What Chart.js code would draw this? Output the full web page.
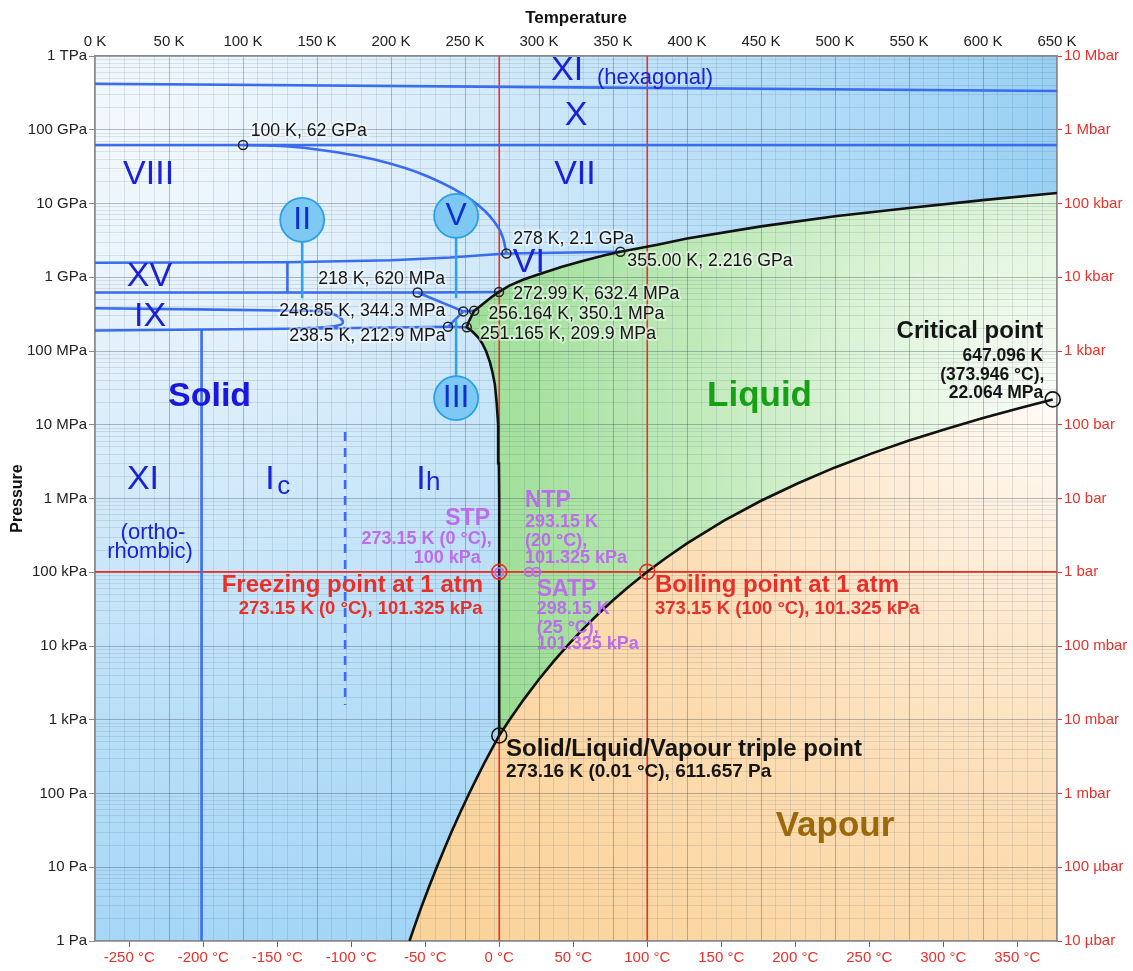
<!DOCTYPE html>
<html lang="en">
<head>
<meta charset="utf-8">
<title>Phase diagram of water</title>
<script src="https://cdn.jsdelivr.net/npm/chart.js@4.4.1/dist/chart.umd.min.js"></script>
<style>
  html, body { margin: 0; padding: 0; background: #ffffff; }
  canvas { display: block; }
</style>
</head>
<body>
<canvas id="phase" width="1133" height="971"></canvas>
<script>
// ---- Axis tick labels ----
const kelvinTicks = [0, 50, 100, 150, 200, 250, 300, 350, 400, 450, 500, 550, 600, 650];
const celsiusTicks = [-250, -200, -150, -100, -50, 0, 50, 100, 150, 200, 250, 300, 350];
const pascalLabels = ['1 Pa', '10 Pa', '100 Pa', '1 kPa', '10 kPa', '100 kPa', '1 MPa', '10 MPa', '100 MPa', '1 GPa', '10 GPa', '100 GPa', '1 TPa'];
const barLabels = ['10 µbar', '100 µbar', '1 mbar', '10 mbar', '100 mbar', '1 bar', '10 bar', '100 bar', '1 kbar', '10 kbar', '100 kbar', '1 Mbar', '10 Mbar'];

// ---- Phase boundaries, [temperature K, pressure Pa] ----
const sublimation = [[212.5, 1], [216, 1.6], [220, 2.7], [225, 5.0], [230.9, 10], [236, 17.7], [241, 30.5], [247, 56.6], [252.8, 100], [258, 163], [263, 257], [268, 397], [273.16, 611.657]];
const vaporization = [[273.16, 611.657], [280, 991.8], [290, 1919.9], [300, 3536.8], [310, 6231], [320, 10546], [330, 17213], [340, 27188], [350, 41682], [360, 62194], [373.15, 101325], [385, 152700], [400, 245770], [425, 500000], [450, 932200], [475, 1.61e6], [500, 2.639e6], [525, 4.09e6], [550, 6.117e6], [575, 8.77e6], [600, 12.345e6], [625, 16.89e6], [647.096, 22.064e6]];
const meltIh = [[273.16, 611.657], [273.15, 101325], [273.08, 1e6], [272.9, 3e6], [272.4, 1e7], [271.4, 2e7], [270.2, 3.5e7], [268.7, 5e7], [266.9, 7e7], [264.2, 1e8], [261.8, 1.25e8], [259.3, 1.5e8], [256.7, 1.7e8], [254.2, 1.9e8], [251.165, 2.099e8]];
const meltIII = [[251.165, 2.099e8], [252.5, 2.5e8], [254.5, 3.0e8], [256.164, 3.501e8]];
const meltV = [[256.164, 3.501e8], [260, 4.0e8], [264, 4.65e8], [268, 5.4e8], [272.99, 6.324e8]];
const meltVI = [[272.99, 6.324e8], [280, 7.7e8], [290, 9.4e8], [300, 1.1e9], [315, 1.38e9], [330, 1.68e9], [345, 2.0e9], [355, 2.216e9]];
const meltVII = [[355, 2.216e9], [380, 2.75e9], [400, 3.35e9], [450, 4.9e9], [500, 6.7e9], [550, 8.7e9], [600, 11.1e9], [650, 13.9e9]];

// ---- Solid–solid boundaries ----
const xiHexBoundary = [[0, 4.2e11], [325, 3.75e11], [650, 3.35e11]];
const iceXBoundary = [[0, 62e9], [650, 62e9]];
const viiiViiBoundary = [[100, 62e9], [121.6, 6.06e10], [146, 5.53e10], [188.9, 3.94e10], [225.7, 2.29e10], [253.9, 1.13e10], [269, 5.92e9], [275.9, 3.32e9], [278, 2.1e9]];
const viViiBoundary = [[278, 2.1e9], [355, 2.216e9]];
const xvTopBoundary = [[0, 1.57e9], [130, 1.6e9], [200, 1.7e9], [240, 1.85e9], [278, 2.1e9]];
const xvViBoundary = [[130, 1.6e9], [130, 6.2e8]];
const lowerViBoundary = [[0, 6.2e8], [218, 6.2e8], [272.99, 6.324e8]];
const iiVBoundary = [[218, 6.2e8], [248.85, 3.443e8]];
const vIIIBoundary = [[248.85, 3.443e8], [256.164, 3.501e8]];
const iiIIIBoundary = [[248.85, 3.443e8], [238.5, 2.129e8]];
const iiiIhBoundary = [[238.5, 2.129e8], [251.165, 2.099e8]];
const ihIIBoundary = [[0, 1.9e8], [150, 2.02e8], [238.5, 2.129e8]];
const ixBoundary = [[0, 3.8e8], [138, 3.52e8], [155, 3.38e8], [164, 2.98e8], [167.5, 2.5e8], [165.5, 2.25e8], [155, 2.1e8], [135, 2.02e8]];
const xiIhBoundary = [[72, 1], [72, 1.95e8]];
const icIhBoundary = [[169, 8e6], [169, 1.58e3]];

// ---- Call-outs for the small ice phases ----
const bubbleNames = ['II', 'V', 'III'];
const bubbleSpots = [[140, 6e9], [244, 6.8e9], [244, 2.3e7]];
const stemII = [[140, 6e9], [140, 5.2e8]];
const stemV = [[244, 6.8e9], [244, 5.2e8]];
const stemIII = [[244, 2.3e7], [244, 2.63e8]];

// ---- Marked points ----
const transitionPoints = [[100, 62e9], [278, 2.1e9], [355, 2.216e9], [218, 6.2e8], [272.99, 6.324e8], [248.85, 3.443e8], [256.164, 3.501e8], [238.5, 2.129e8], [251.165, 2.099e8]];
const triplePoint = [[273.16, 611.657]];
const criticalPoint = [[647.096, 22.064e6]];
const atmosphericPoints = [[273.15, 101325], [373.15, 101325]];
const standardPoints = [[273.15, 100000], [293.15, 101325], [298.15, 101325]];

// ---- Reference lines ----
const oneAtmosphere = [[0, 101325], [650, 101325]];
const freezingLine = [[273.15, 1], [273.15, 1e12]];
const boilingLine = [[373.15, 1], [373.15, 1e12]];

// ---------------------------------------------------------------------------
const FONT = "'Liberation Sans', Arial, Helvetica, sans-serif";
Chart.defaults.font.family = FONT;

const RED = '#e8302a';
const PURPLE = '#bd6cec';
const LINE_BLUE = '#3a6cf0';
const STEM_BLUE = '#2aa6e8';
const INK_BLUE = '#1a22d6';
const INK = '#151515';
const MAJOR_GRID = 'rgba(45, 60, 75, 0.33)';
const MINOR_GRID = 'rgba(70, 90, 110, 0.14)';

const isDecade = v => { const l = Math.log10(v); return Math.abs(l - Math.round(l)) < 1e-6; };
const pressureGrid = [];
for (let n = 0; n < 12; n++) for (let m = 1; m < 10; m++) pressureGrid.push(Number(m + 'e' + n));
pressureGrid.push(1e12);
const decades = pressureGrid.filter(isDecade);
const kelvinGrid = [];
for (let t = 0; t <= 650; t += 10) kelvinGrid.push(t);

const xy = pts => pts.map(([t, p]) => ({ x: t, y: p }));
const curve = (pts, color, width, order, extra = {}) => Object.assign({
  data: xy(pts), showLine: true, borderColor: color, borderWidth: width,
  pointRadius: 0, pointHoverRadius: 0, fill: false, tension: 0, order
}, extra);
const markers = (pts, radius, color, width, fillColor, order) => ({
  data: xy(pts), showLine: false, pointRadius: radius, pointHoverRadius: radius,
  pointBorderColor: color, pointBorderWidth: width, pointBackgroundColor: fillColor,
  clip: false, order
});

const straightBlue = [xiHexBoundary, iceXBoundary, viViiBoundary, xvTopBoundary, xvViBoundary,
  lowerViBoundary, iiVBoundary, vIIIBoundary, iiIIIBoundary, iiiIhBoundary, ihIIBoundary, xiIhBoundary];

const datasets = [
  curve(oneAtmosphere, RED, 1.6, 20),
  curve(freezingLine, RED, 1.6, 20),
  curve(boilingLine, RED, 1.6, 20),
  ...straightBlue.map(b => curve(b, LINE_BLUE, 2.6, 15)),
  curve(viiiViiBoundary, LINE_BLUE, 2.6, 15, { cubicInterpolationMode: 'monotone' }),
  curve(ixBoundary, LINE_BLUE, 2.6, 15, { tension: 0.4 }),
  curve(icIhBoundary, LINE_BLUE, 2.6, 15, { borderDash: [9, 7] }),
  curve(stemII, STEM_BLUE, 2.6, 12),
  curve(stemV, STEM_BLUE, 2.6, 12),
  curve(stemIII, STEM_BLUE, 2.6, 12),
  curve(sublimation, '#111', 2.6, 10),
  curve(vaporization, '#111', 2.6, 10),
  curve([...meltIh, ...meltIII.slice(1), ...meltV.slice(1), ...meltVI.slice(1), ...meltVII.slice(1)], '#111', 2.6, 10),
  markers(bubbleSpots, 22, '#2aa0e4', 1.8, '#7ec9f4', 5),
  markers(transitionPoints, 4.5, '#222', 1.5, 'rgba(0,0,0,0)', 2),
  markers(triplePoint, 7.5, '#111', 1.6, 'rgba(0,0,0,0)', 2),
  markers(criticalPoint, 7.5, '#111', 1.6, 'rgba(0,0,0,0)', 2),
  markers(standardPoints, 4.3, PURPLE, 1.8, 'rgba(190,110,236,0.25)', 2),
  markers(atmosphericPoints, 7.5, RED, 1.6, 'rgba(0,0,0,0)', 1)
];

// Coloured phase regions, painted beneath the grid
const liquidOutline = [...meltIh, ...meltIII, ...meltV, ...meltVI, ...meltVII, [650, criticalPoint[0][1]], ...vaporization.slice().reverse()];
const vapourOutline = [...sublimation, ...vaporization, [650, criticalPoint[0][1]], [650, 1]];

const phaseRegions = {
  id: 'phaseRegions',
  beforeDraw(chart) {
    const { ctx, chartArea: a, scales: { x, y } } = chart;
    const px = ([t, p]) => [x.getPixelForValue(t), y.getPixelForValue(p)];
    const trace = pts => { ctx.beginPath(); pts.forEach((q, i) => { const [u, v] = px(q); i ? ctx.lineTo(u, v) : ctx.moveTo(u, v); }); ctx.closePath(); };
    const radial = (cx, cy, r, stops) => { const g = ctx.createRadialGradient(cx, cy, 0, cx, cy, r); stops.forEach(([o, c]) => g.addColorStop(o, c)); return g; };
    ctx.save();
    ctx.beginPath(); ctx.rect(a.left, a.top, a.width, a.height); ctx.clip();
    ctx.fillStyle = radial(a.left + 30, a.top + 70, 1000, [[0, '#f3f9fd'], [0.25, '#e1f0fb'], [0.55, '#bde1f8'], [0.85, '#a3d5f6'], [1, '#8ecaf0']]);
    ctx.fillRect(a.left, a.top, a.width, a.height);
    const [cx, cy] = px(criticalPoint[0]);
    trace(liquidOutline);
    ctx.fillStyle = radial(cx, cy, 620, [[0, '#fafdf9'], [0.25, '#e4f6e0'], [0.55, '#c4ebbe'], [0.85, '#a6e1a0'], [1, '#9cdd96']]);
    ctx.fill();
    trace(vapourOutline);
    ctx.fillStyle = radial(cx, cy, 900, [[0, '#fffbf6'], [0.25, '#fde9cf'], [0.5, '#fcdcb1'], [0.75, '#fbd6a1'], [1, '#fad196']]);
    ctx.fill();
    ctx.restore();
  }
};

// Text placed in data coordinates
const B = 'bold ';
const notes = [
  { text: 'XI', t: 319, p: 6.26e11, font: '34px', color: INK_BLUE },
  { text: '(hexagonal)', t: 378.4, p: 5.03e11, font: '22px', color: INK_BLUE },
  { text: 'X', t: 325, p: 1.55e11, font: '34px', color: INK_BLUE },
  { text: 'VIII', t: 36.2, p: 2.47e10, font: '34px', color: INK_BLUE },
  { text: 'VII', t: 324.3, p: 2.47e10, font: '34px', color: INK_BLUE },
  { text: 'XV', t: 36.8, p: 1.02e9, font: '34px', color: INK_BLUE },
  { text: 'IX', t: 37.2, p: 2.92e8, font: '34px', color: INK_BLUE },
  { text: 'VI', t: 293.2, p: 1.58e9, font: '34px', color: INK_BLUE },
  { text: 'Solid', t: 77.4, p: 2.4e7, font: B + '34px', color: '#1818e0' },
  { text: 'XI', t: 32.4, p: 1.78e6, font: '34px', color: INK_BLUE },
  { text: '(ortho-', t: 39.2, p: 3.41e5, font: '22px', color: INK_BLUE },
  { text: 'rhombic)', t: 37.2, p: 1.88e5, font: '22px', color: INK_BLUE },
  { text: 'I', t: 118.2, p: 1.78e6, font: '34px', color: INK_BLUE },
  { text: 'c', t: 127.6, p: 1.45e6, font: '26px', color: INK_BLUE },
  { text: 'I', t: 220.3, p: 1.78e6, font: '34px', color: INK_BLUE },
  { text: 'h', t: 228.6, p: 1.62e6, font: '26px', color: INK_BLUE },
  { text: 'Liquid', t: 449, p: 2.4e7, font: B + '35px', color: '#16a016' },
  { text: 'Vapour', t: 500, p: 36.2, font: B + '35px', color: '#9a690b' },

  { text: '100 K, 62 GPa', t: 105.2, p: 9.6e10, font: '17.7px', color: INK, align: 'left', halo: true },
  { text: '278 K, 2.1 GPa', t: 282.6, p: 3.3e9, font: '17.7px', color: INK, align: 'left', halo: true },
  { text: '355.00 K, 2.216 GPa', t: 359.7, p: 1.66e9, font: '17.7px', color: INK, align: 'left', halo: true },
  { text: '218 K, 620 MPa', t: 150.9, p: 9.47e8, font: '17.7px', color: INK, align: 'left', halo: true },
  { text: '272.99 K, 632.4 MPa', t: 282.6, p: 5.93e8, font: '17.7px', color: INK, align: 'left', halo: true },
  { text: '248.85 K, 344.3 MPa', t: 124.5, p: 3.49e8, font: '17.7px', color: INK, align: 'left', halo: true },
  { text: '256.164 K, 350.1 MPa', t: 265.8, p: 3.18e8, font: '17.7px', color: INK, align: 'left', halo: true },
  { text: '238.5 K, 212.9 MPa', t: 131.3, p: 1.6e8, font: '17.7px', color: INK, align: 'left', halo: true },
  { text: '251.165 K, 209.9 MPa', t: 260.1, p: 1.7e8, font: '17.7px', color: INK, align: 'left', halo: true },

  { text: 'Critical point', t: 640.7, p: 1.83e8, font: B + '24px', color: INK, align: 'right' },
  { text: '647.096 K', t: 640.7, p: 8.5e7, font: B + '17.5px', color: INK, align: 'right' },
  { text: '(373.946 °C),', t: 641.5, p: 4.73e7, font: B + '17.5px', color: INK, align: 'right' },
  { text: '22.064 MPa', t: 640.7, p: 2.68e7, font: B + '17.5px', color: INK, align: 'right' },

  { text: 'Solid/Liquid/Vapour triple point', t: 277.7, p: 401, font: B + '24px', color: INK, align: 'left' },
  { text: '273.16 K (0.01 °C), 611.657 Pa', t: 277.7, p: 196, font: B + '19px', color: INK, align: 'left' },

  { text: 'Freezing point at 1 atm', t: 262.2, p: 6.72e4, font: B + '24px', color: RED, align: 'right' },
  { text: '273.15 K (0 °C), 101.325 kPa', t: 261.9, p: 3.18e4, font: B + '18.5px', color: RED, align: 'right' },
  { text: 'Boiling point at 1 atm', t: 378.4, p: 6.72e4, font: B + '24px', color: RED, align: 'left' },
  { text: '373.15 K (100 °C), 101.325 kPa', t: 378.4, p: 3.18e4, font: B + '18.5px', color: RED, align: 'left' },

  { text: 'STP', t: 266.9, p: 5.35e5, font: B + '23px', color: PURPLE, align: 'right' },
  { text: '273.15 K (0 °C),', t: 268, p: 2.82e5, font: B + '18px', color: PURPLE, align: 'right' },
  { text: '100 kPa', t: 260.6, p: 1.58e5, font: B + '18px', color: PURPLE, align: 'right' },
  { text: 'NTP', t: 290.5, p: 9.4e5, font: B + '23px', color: PURPLE, align: 'left' },
  { text: '293.15 K', t: 290.5, p: 4.73e5, font: B + '18px', color: PURPLE, align: 'left' },
  { text: '(20 °C),', t: 290.5, p: 2.65e5, font: B + '18px', color: PURPLE, align: 'left' },
  { text: '101.325 kPa', t: 290.5, p: 1.58e5, font: B + '18px', color: PURPLE, align: 'left' },
  { text: 'SATP', t: 298.4, p: 5.83e4, font: B + '23px', color: PURPLE, align: 'left' },
  { text: '298.15 K', t: 298.4, p: 3.18e4, font: B + '18px', color: PURPLE, align: 'left' },
  { text: '(25 °C),', t: 298.4, p: 1.78e4, font: B + '18px', color: PURPLE, align: 'left' },
  { text: '101.325 kPa', t: 298.4, p: 1.06e4, font: B + '18px', color: PURPLE, align: 'left' }
];

const phaseText = {
  id: 'phaseText',
  afterDatasetsDraw(chart) {
    const { ctx, scales: { x, y } } = chart;
    ctx.save();
    ctx.textBaseline = 'middle';
    const put = (n, t, p) => {
      const u = x.getPixelForValue(t), v = y.getPixelForValue(p);
      ctx.font = n.font + ' ' + FONT;
      ctx.textAlign = n.align || 'center';
      if (n.halo) {
        ctx.lineJoin = 'round';
        ctx.lineWidth = 4;
        ctx.strokeStyle = 'rgba(255,255,255,0.45)';
        ctx.strokeText(n.text, u, v);
      }
      ctx.fillStyle = n.color;
      ctx.fillText(n.text, u, v);
    };
    notes.forEach(n => put(n, n.t, n.p));
    bubbleNames.forEach((name, i) => put({ text: name, font: '32px', color: '#0f2fd0' }, bubbleSpots[i][0], bubbleSpots[i][1]));
    ctx.restore();
  }
};

new Chart(document.getElementById('phase'), {
  type: 'scatter',
  data: { datasets },
  plugins: [phaseRegions, phaseText],
  options: {
    responsive: false,
    devicePixelRatio: 1,
    animation: false,
    events: [],
    layout: { padding: 0 },
    plugins: { legend: { display: false }, tooltip: { enabled: false } },
    scales: {
      x: {
        type: 'linear', position: 'top', min: 0, max: 650,
        afterBuildTicks: s => { s.ticks = kelvinGrid.map(v => ({ value: v })); },
        afterFit: s => { s.height = 56; },
        ticks: { autoSkip: false, maxRotation: 0, padding: 5, color: '#222', font: { size: 15 },
          callback: v => kelvinTicks.includes(v) ? v + ' K' : '' },
        grid: { color: c => (c.tick && c.tick.value % 50 === 0) ? MAJOR_GRID : MINOR_GRID, lineWidth: 1, drawTicks: false },
        border: { display: true, color: '#8a8a8a', width: 1.5 },
        title: { display: true, text: 'Temperature', color: '#111', font: { size: 17, weight: 'bold' }, padding: { top: 8, bottom: 0 } }
      },
      x2: {
        type: 'linear', position: 'bottom', min: 0, max: 650,
        afterBuildTicks: s => { s.ticks = celsiusTicks.map(c => ({ value: c + 273.15 })); },
        afterFit: s => { s.height = 30; },
        ticks: { autoSkip: false, maxRotation: 0, padding: 2, color: RED, font: { size: 15 },
          callback: v => Math.round(v - 273.15) + ' °C' },
        grid: { drawOnChartArea: false, tickColor: RED, tickLength: 6 },
        border: { display: true, color: '#8a8a8a', width: 1.5 }
      },
      y: {
        type: 'logarithmic', position: 'left', min: 1, max: 1e12,
        afterBuildTicks: s => { s.ticks = pressureGrid.map(v => ({ value: v })); },
        afterFit: s => { s.width = 95; },
        ticks: { autoSkip: false, padding: 2, color: '#222', font: { size: 15 },
          callback: v => isDecade(v) ? pascalLabels[Math.round(Math.log10(v))] : '' },
        grid: { color: c => (c.tick && isDecade(c.tick.value)) ? MAJOR_GRID : MINOR_GRID, lineWidth: 1,
          tickColor: c => (c.tick && isDecade(c.tick.value)) ? '#8a8a8a' : 'rgba(0,0,0,0)', tickLength: 6 },
        border: { display: true, color: '#8a8a8a', width: 1.5 },
        title: { display: true, text: 'Pressure', color: '#111', font: { size: 16, weight: 'bold' }, padding: { top: 8, bottom: 0 } }
      },
      y2: {
        type: 'logarithmic', position: 'right', min: 1, max: 1e12,
        afterBuildTicks: s => { s.ticks = decades.map(v => ({ value: v })); },
        afterFit: s => { s.width = 76; },
        ticks: { autoSkip: false, padding: 2, color: RED, font: { size: 15 },
          callback: v => barLabels[Math.round(Math.log10(v))] },
        grid: { drawOnChartArea: false, tickColor: RED, tickLength: 5 },
        border: { display: true, color: '#8a8a8a', width: 1.5 }
      }
    }
  }
});
</script>
</body>
</html>
